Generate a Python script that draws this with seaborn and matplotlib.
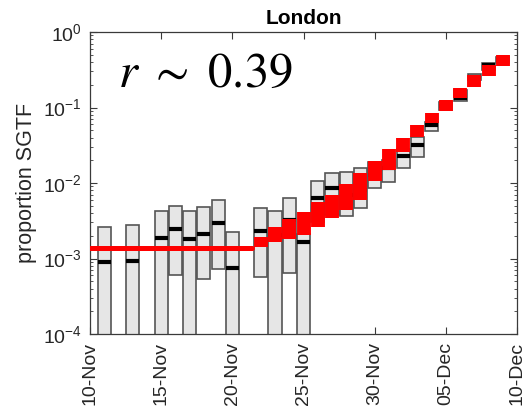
import numpy as np
import pandas as pd
import matplotlib
matplotlib.use("Agg")
import matplotlib.pyplot as plt
import matplotlib.dates as mdates
from matplotlib.ticker import LogLocator, NullFormatter
import seaborn as sns

# Daily SGTF proportion intervals (upper, median, lower); 1e-5 marks a lower bound off the axis
box_dates = ["2020-11-11", "2020-11-13", "2020-11-15", "2020-11-16", "2020-11-17",
             "2020-11-18", "2020-11-19", "2020-11-20", "2020-11-22", "2020-11-23",
             "2020-11-24", "2020-11-25", "2020-11-26", "2020-11-27", "2020-11-28",
             "2020-11-29", "2020-11-30", "2020-12-01", "2020-12-02", "2020-12-03",
             "2020-12-04", "2020-12-05", "2020-12-06", "2020-12-07", "2020-12-08",
             "2020-12-09"]
box_high = [2.64e-3, 2.78e-3, 4.30e-3, 5.0e-3, 4.26e-3, 4.81e-3, 5.9e-3, 2.26e-3,
            4.62e-3, 4.2e-3, 6.4e-3, 2.14e-3, 1.07e-2, 1.34e-2, 1.40e-2, 1.58e-2,
            1.91e-2, 2.02e-2, 2.79e-2, 4.03e-2, 6.43e-2, 0.118, 0.1706, 0.274,
            0.392, 0.467]
box_median = [8.9e-4, 9.2e-4, 1.85e-3, 2.46e-3, 1.83e-3, 2.13e-3, 2.95e-3, 7.5e-4,
              2.31e-3, 2.05e-3, 3.24e-3, 1.67e-3, 6.4e-3, 8.6e-3, 6.9e-3, 8.1e-3,
              1.28e-2, 1.60e-2, 2.28e-2, 3.14e-2, 5.78e-2, 0.105, 0.1324, 0.257,
              0.371, 0.426]
box_low = [1e-5, 1e-5, 1e-5, 6.1e-4, 1e-5, 5.3e-4, 7.3e-4, 1e-5,
           5.7e-4, 1e-5, 6.5e-4, 1e-5, 3.04e-3, 3.77e-3, 3.71e-3, 4.7e-3,
           8.7e-3, 1.04e-2, 1.57e-2, 2.23e-2, 4.93e-2, 0.0927, 0.122, 0.231,
           0.314, 0.388]

# Model fit: flat background level, then daily growth bands
flat_dates = ["2020-11-10T00:00", "2020-11-21T09:00"]
flat_level = [1.39e-3, 1.39e-3]
fit_dates = ["2020-11-22", "2020-11-23", "2020-11-24", "2020-11-25", "2020-11-26",
             "2020-11-27", "2020-11-28", "2020-11-29", "2020-11-30", "2020-12-01",
             "2020-12-02", "2020-12-03", "2020-12-04", "2020-12-05", "2020-12-06",
             "2020-12-07", "2020-12-08", "2020-12-09"]
fit_high = [1.93e-3, 2.64e-3, 3.33e-3, 4.07e-3, 5.6e-3, 6.94e-3, 9.7e-3, 1.36e-2,
            1.96e-2, 2.82e-2, 3.95e-2, 5.86e-2, 8.45e-2, 0.1257, 0.1795, 0.269,
            0.366, 0.496]
fit_low = [1.42e-3, 1.65e-3, 1.79e-3, 2.05e-3, 2.64e-3, 3.44e-3, 4.39e-3, 5.96e-3,
           1.06e-2, 1.49e-2, 2.58e-2, 4.03e-2, 6.18e-2, 0.0907, 0.1324, 0.1884,
           0.261, 0.355]

x_ticks = ["2020-11-10", "2020-11-15", "2020-11-20", "2020-11-25", "2020-11-30",
           "2020-12-05", "2020-12-10"]
title = "London"
y_label = "proportion SGTF"
rate_text = r"$\mathit{r}\ \sim\ \mathrm{0.39}$"

sns.set_theme(style="ticks")
plt.rcParams["font.family"] = ["Liberation Sans", "DejaVu Sans"]
plt.rcParams["mathtext.fontset"] = "custom"
plt.rcParams["mathtext.rm"] = "Liberation Sans"
plt.rcParams["mathtext.default"] = "regular"

axis_col = "#3a3a3a"
fig = plt.figure(figsize=(5.24, 4.12), dpi=100)
ax = fig.add_axes([0.1718, 0.1893, 0.8148, 0.7330])
ax.set_yscale("log")

bx = mdates.date2num(pd.to_datetime(box_dates))
hi = np.array(box_high)
lo = np.array(box_low)
w = 0.92
ax.bar(bx, hi - lo, bottom=lo, width=w, color="#e6e6e6",
       edgecolor="#555555", linewidth=1.2, zorder=2)
ax.hlines(box_median, bx - w / 2, bx + w / 2, color="black", lw=3, zorder=3)

flat_df = pd.DataFrame({"date": pd.to_datetime(flat_dates), "p": flat_level})
sns.lineplot(data=flat_df, x="date", y="p", color="red", lw=3.6, ax=ax, zorder=4)

fx = mdates.date2num(pd.to_datetime(fit_dates))
ax.vlines(fx, fit_low, fit_high, color="red", lw=10, zorder=5)

ax.set_xlim(mdates.date2num(pd.Timestamp("2020-11-10")),
            mdates.date2num(pd.Timestamp("2020-12-10")))
ax.set_ylim(1e-4, 1)
ax.set_xticks(mdates.date2num(pd.to_datetime(x_ticks)))
ax.xaxis.set_major_formatter(mdates.DateFormatter("%d-%b"))
ax.yaxis.set_major_locator(LogLocator(base=10, numticks=10))
ax.yaxis.set_minor_locator(LogLocator(base=10, subs=np.arange(2, 10), numticks=20))
ax.yaxis.set_minor_formatter(NullFormatter())

ax.tick_params(axis="both", which="both", direction="in", top=True, right=True,
               color=axis_col, labelcolor="#262626")
ax.tick_params(axis="both", which="major", length=5, width=0.8, labelsize=14)
ax.tick_params(axis="both", which="minor", length=2.5, width=0.6)
ax.tick_params(axis="x", labelrotation=90, pad=6)
ax.tick_params(axis="y", pad=6)
for s in ax.spines.values():
    s.set_color(axis_col)
    s.set_linewidth(0.9)

ax.set_xlabel("")
ax.set_ylabel(y_label, fontsize=15.5, color="#262626", labelpad=4)
ax.set_title(title, fontsize=15, fontweight="bold", color="black", pad=6)
ax.text(0.066, 0.818, rate_text, transform=ax.transAxes, fontsize=35,
        math_fontfamily="stix", va="baseline", ha="left", color="black", zorder=6)

fig.savefig("out.png", dpi=100)
